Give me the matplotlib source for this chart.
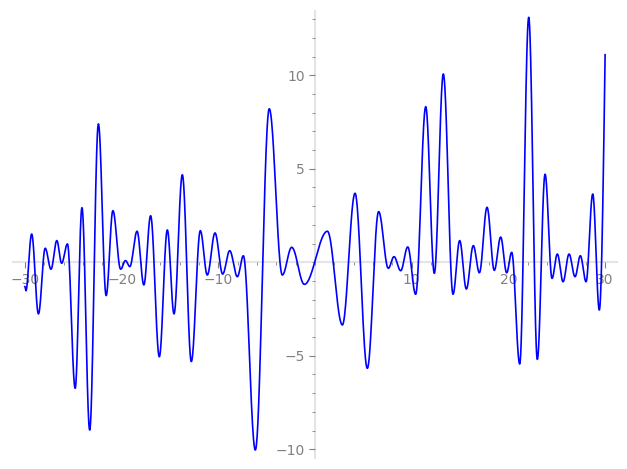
import numpy as np
import matplotlib

matplotlib.use("Agg")
import matplotlib.pyplot as plt
from matplotlib.ticker import MultipleLocator, FixedLocator

# turning points of the curve (x, y)
peak_x = [-30.0, -29.9, -29.3, -28.6, -27.9, -27.3, -26.7, -26.2, -25.6, -24.8,
          -24.1, -23.3, -22.4, -21.6, -20.9, -20.1, -19.6, -19.15, -18.4, -17.7,
          -17.0, -16.1, -15.27, -14.58, -13.72, -12.79, -11.86, -11.14, -10.34, -9.55,
          -8.82, -8.03, -7.41, -6.17, -4.73, -3.38, -2.41, -1.1, 1.28, 2.83,
          4.14, 5.41, 6.58, 7.58, 8.17, 8.86, 9.59, 10.41, 11.45, 12.34,
          13.27, 14.27, 14.96, 15.65, 16.37, 17.0, 17.79, 18.54, 19.2, 19.82,
          20.34, 21.17, 22.1, 22.99, 23.79, 24.51, 25.06, 25.65, 26.27, 26.89,
          27.44, 28.03, 28.72, 29.4, 30.0]
peak_y = [-1.3, -1.52, 1.51, -2.76, 0.75, -0.37, 1.16, -0.05, 0.98, -6.74,
          2.92, -8.97, 7.40, -1.78, 2.76, -0.37, 0.09, -0.23, 1.66, -1.21,
          2.49, -5.05, 1.73, -2.76, 4.68, -5.31, 1.69, -0.68, 1.57, -0.63,
          0.62, -0.77, 0.35, -10.04, 8.21, -0.68, 0.80, -1.18, 1.66, -3.35,
          3.69, -5.67, 2.71, -0.32, 0.30, -0.45, 0.82, -1.71, 8.32, -0.59,
          10.07, -1.71, 1.16, -1.43, 0.89, -0.56, 2.94, -0.43, 1.35, -0.56,
          0.53, -5.44, 13.1, -5.19, 4.71, -0.86, 0.44, -1.04, 0.44, -0.77,
          0.35, -1.04, 3.65, -2.55, 11.1]


def smooth_curve(px, py, n=40):
    xs, ys = [], []
    last = len(px) - 2
    for i in range(len(px) - 1):
        t = np.linspace(0, 1, n)
        if i == last:
            s = 1 - np.cos(np.pi * t / 2)  # still climbing at the end
        else:
            s = (1 - np.cos(np.pi * t)) / 2
        xs.append(px[i] + (px[i + 1] - px[i]) * t)
        ys.append(py[i] + (py[i + 1] - py[i]) * s)
    return np.concatenate(xs), np.concatenate(ys)


x, y = smooth_curve(peak_x, peak_y)

fig = plt.figure(figsize=(6.27, 4.69), dpi=100)
ax = fig.add_axes([0.0212, 0.0237, 0.9624, 0.9537])
ax.plot(x, y, color="blue", lw=1.2)
ax.set_xlim(-31.2, 31.2)
ax.set_ylim(-10.46, 13.46)

axis_col = "#e4e4e4"
text_col = "#808080"
for side in ("top", "right"):
    ax.spines[side].set_visible(False)
for side in ("left", "bottom"):
    ax.spines[side].set_position(("data", 0))
    ax.spines[side].set_color(axis_col)
    ax.spines[side].set_linewidth(1.5)
    ax.spines[side].set_zorder(0)

ax.xaxis.set_major_locator(FixedLocator([-30, -20, -10, 10, 20, 30]))
ax.xaxis.set_minor_locator(MultipleLocator(2))
ax.yaxis.set_major_locator(FixedLocator([-10, -5, 5, 10]))
ax.yaxis.set_minor_locator(MultipleLocator(1))
ax.tick_params(which="both", colors=text_col, labelcolor=text_col, labelsize=10)
ax.tick_params(which="major", length=4, width=0.8)
ax.tick_params(which="minor", length=2.5, width=0.6)
ax.set_xticklabels(["\u221230", "\u221220", "\u221210", "10", "20", "30"])
ax.set_yticklabels(["\u221210", "\u22125", "5", "10"])

fig.savefig("out.png", dpi=100)
